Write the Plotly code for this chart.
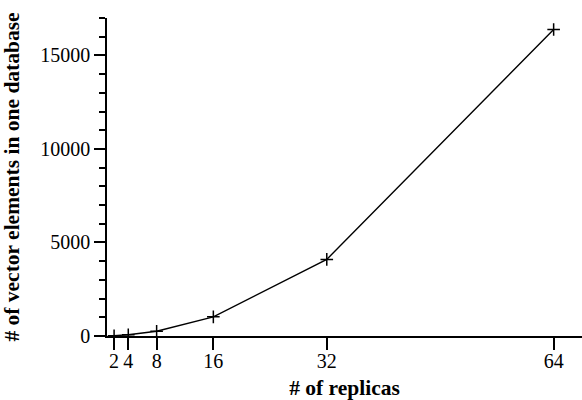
import plotly.graph_objects as go

replicas = [2, 4, 8, 16, 32, 64]
elements = [16, 64, 256, 1024, 4096, 16384]
x_ticks = [2, 4, 8, 16, 32, 64]
y_ticks = [0, 5000, 10000, 15000]

fig = go.Figure()
fig.add_trace(go.Scatter(
    x=replicas, y=elements, mode="lines+markers",
    line=dict(color="black", width=1.4),
    marker=dict(symbol="cross-thin", size=9, line=dict(color="black", width=1.5)),
    cliponaxis=False, showlegend=False,
))

font = "Liberation Serif, Times New Roman, serif"
fig.update_layout(
    width=582, height=400,
    margin=dict(l=107, r=0, t=18, b=64, autoexpand=False),
    plot_bgcolor="white", paper_bgcolor="white",
    font=dict(family=font, size=20, color="black"),
)
fig.update_xaxes(
    range=[1, 68], tickvals=x_ticks, ticktext=[str(v) for v in x_ticks],
    showline=True, linecolor="black", linewidth=1.5,
    ticks="outside", ticklen=12, tickwidth=1.5, tickcolor="black",
    ticklabelstandoff=-6,
    showgrid=False, zeroline=False, automargin=False,
    title=dict(text="<b># of replicas</b>", font=dict(family=font, size=21.5)),
)
fig.update_yaxes(
    range=[0, 17000], tickvals=y_ticks, ticktext=[str(v) for v in y_ticks],
    showline=True, linecolor="black", linewidth=1.5,
    ticks="outside", ticklen=11, tickwidth=1.5, tickcolor="black",
    minor=dict(dtick=1000, ticks="outside", ticklen=6, tickwidth=1.5, tickcolor="black", showgrid=False),
    showgrid=False, zeroline=False, automargin=False,
    title=dict(text="<b># of vector elements in one database</b>", font=dict(family=font, size=21.5)),
)
fig.write_html("out.html", config={"displayModeBar": False},
               post_script="document.body.style.margin='0';document.body.style.overflow='hidden';")
